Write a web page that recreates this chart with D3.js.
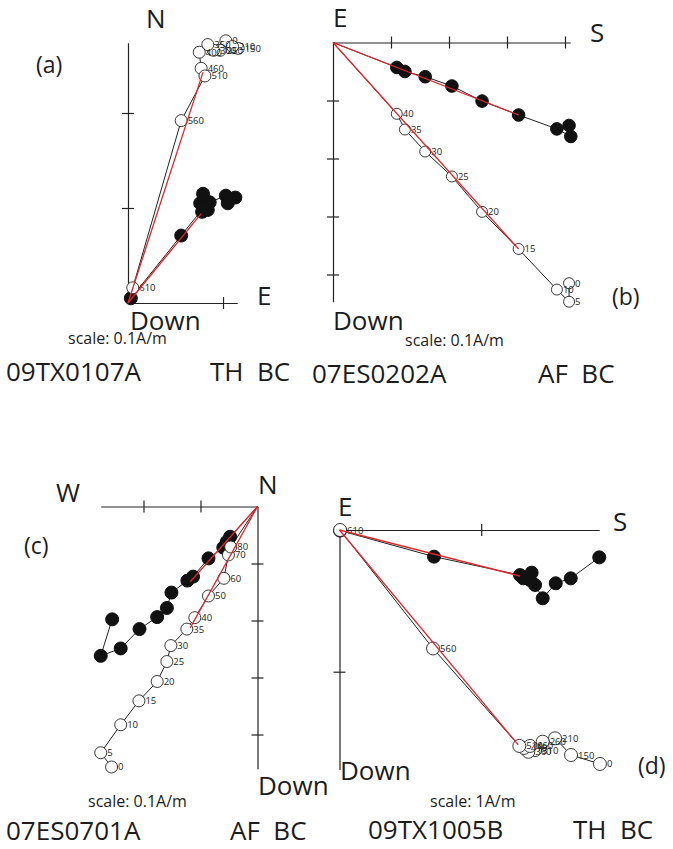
<!DOCTYPE html>
<html>
<head>
<meta charset="utf-8">
<script src="https://cdn.jsdelivr.net/npm/d3@7"></script>
<style>
  body { margin: 0; background: #fff; }
  text { font-family: "Open Sans", sans-serif; fill: #1c1c1c; white-space: pre; }
</style>
</head>
<body>
<svg id="chart" width="673" height="849"></svg>
<script>
// Demagnetisation steps and projections, in A/m
// each point is [horizontal axis component, vertical axis component]

// (a) 09TX0107A, thermal steps
var stepsA = ["0", "150", "210", "250", "300", "350", "400", "460", "510", "560", "610"];
var openA = [[0.103, 0.276], [0.116, 0.268], [0.110, 0.270], [0.097, 0.266], [0.090, 0.266], [0.084, 0.272],
             [0.075, 0.264], [0.077, 0.247], [0.081, 0.239], [0.056, 0.192], [0.005, 0.016]];
var filledA = [[0.113, 0.111], [0.105, 0.105], [0.103, 0.113], [0.086, 0.106], [0.079, 0.115], [0.084, 0.098],
               [0.076, 0.105], [0.078, 0.096], [0.080, 0.101], [0.056, 0.071], [0.003, 0.005]];
var fitOpenA = [[0, 0], [0.079, 0.243]];
var fitFilledA = [[0, 0], [0.077, 0.094]];
var ticksA = { h: [0.1], v: [0.1, 0.2] };

// (b) 07ES0202A, AF steps
var stepsB = ["0", "5", "10", "15", "20", "25", "30", "35", "40"];
var openB = [[0.407, 0.415], [0.407, 0.447], [0.386, 0.426], [0.320, 0.356], [0.257, 0.292],
             [0.205, 0.231], [0.159, 0.188], [0.124, 0.150], [0.110, 0.123]];
var filledB = [[0.407, 0.143], [0.410, 0.162], [0.386, 0.149], [0.320, 0.125], [0.257, 0.101],
               [0.205, 0.075], [0.159, 0.059], [0.124, 0.050], [0.110, 0.043]];
var fitOpenB = [[0, 0], [0.320, 0.356]];
var fitFilledB = [[0, 0], [0.320, 0.125]];
var ticksB = { h: [0.1, 0.2, 0.3, 0.4], v: [0.1, 0.2, 0.3, 0.4] };

// (c) 07ES0701A, AF steps
var stepsC = ["0", "5", "10", "15", "20", "25", "30", "35", "40", "50", "60", "70", "80"];
var openC = [[0.256, 0.457], [0.275, 0.432], [0.240, 0.383], [0.208, 0.341], [0.176, 0.307], [0.159, 0.272],
             [0.152, 0.244], [0.124, 0.215], [0.110, 0.195], [0.086, 0.157], [0.059, 0.126], [0.051, 0.085],
             [0.047, 0.071]];
var filledC = [[0.255, 0.198], [0.275, 0.262], [0.240, 0.249], [0.207, 0.215], [0.176, 0.194], [0.159, 0.178],
               [0.151, 0.151], [0.123, 0.130], [0.113, 0.123], [0.086, 0.091], [0.060, 0.072], [0.054, 0.062],
               [0.048, 0.053]];
var fitOpenC = [[0, 0], [0.118, 0.213]];
var fitFilledC = [[0, 0], [0.118, 0.132]];
var ticksC = { h: [0.1, 0.2], v: [0.1, 0.2, 0.3, 0.4] };

// (d) 09TX1005B, thermal steps
var stepsD = ["0", "150", "210", "260", "310", "360", "410", "460", "510", "560", "610"];
var openD = [[1.838, 1.651], [1.634, 1.588], [1.521, 1.470], [1.434, 1.494], [1.380, 1.553], [1.332, 1.565],
             [1.302, 1.538], [1.344, 1.524], [1.269, 1.524], [0.660, 0.836], [0.004, 0.000]];
var filledD = [[1.833, 0.193], [1.632, 0.341], [1.526, 0.376], [1.434, 0.482], [1.380, 0.388], [1.344, 0.353],
               [1.297, 0.341], [1.356, 0.301], [1.274, 0.318], [0.667, 0.188], [0.004, 0.004]];
var fitOpenD = [[0, 0], [1.262, 1.517]];
var fitFilledD = [[0, 0], [1.274, 0.325]];
var ticksD = { h: [1], v: [1] };

// Panel layout: origin in px, px per A/m, axis directions and lengths
var panels = [
  { steps: stepsA, open: openA, filled: filledA, fitOpen: fitOpenA, fitFilled: fitFilledA, ticks: ticksA,
    ox: 128, oy: 303, unit: 950, sx: 1, sy: -1, hExt: 0.115, vExt: 0.274, rOpen: 6, rFilled: 6.5, toOrigin: false,
    texts: [["N", 146, 28, 26], ["(a)", 36, 73, 23], ["E", 257, 305, 26], ["Down", 130, 330, 26],
            ["scale: 0.1A/m", 68, 344, 16], ["09TX0107A", 6, 381, 26], ["TH  BC", 210, 381, 26]] },
  { steps: stepsB, open: openB, filled: filledB, fitOpen: fitOpenB, fitFilled: fitFilledB, ticks: ticksB,
    ox: 333, oy: 42.5, unit: 580, sx: 1, sy: 1, hExt: 0.409, vExt: 0.447, rOpen: 5.5, rFilled: 6.3, toOrigin: true,
    texts: [["E", 333, 27, 26], ["S", 590, 42, 26], ["Down", 333, 330, 26], ["(b)", 612, 305, 23],
            ["scale: 0.1A/m", 405, 346, 16], ["07ES0202A", 312, 383, 26], ["AF  BC", 538, 383, 26]] },
  { steps: stepsC, open: openC, filled: filledC, fitOpen: fitOpenC, fitFilled: fitFilledC, ticks: ticksC,
    ox: 257.5, oy: 506.5, unit: 570, sx: -1, sy: 1, hExt: 0.275, vExt: 0.46, rOpen: 6, rFilled: 6.5, toOrigin: true,
    texts: [["W", 56, 502, 26], ["N", 258, 494, 26], ["(c)", 24, 554, 23], ["Down", 258, 795, 26],
            ["scale: 0.1A/m", 88, 807, 16], ["07ES0701A", 6, 840, 26], ["AF  BC", 230, 840, 26]] },
  { steps: stepsD, open: openD, filled: filledD, fitOpen: fitOpenD, fitFilled: fitFilledD, ticks: ticksD,
    ox: 339.5, oy: 530, unit: 141.7, sx: 1, sy: 1, hExt: 1.833, vExt: 1.69, rOpen: 6.5, rFilled: 6.5, toOrigin: false,
    texts: [["E", 338, 516, 26], ["S", 613, 531, 26], ["Down", 340, 780, 26], ["(d)", 638, 774, 23],
            ["scale: 1A/m", 430, 807, 16], ["09TX1005B", 368, 839, 26], ["TH  BC", 573, 839, 26]] }
];

var svg = d3.select("#chart");

panels.forEach(function (p) {
  var g = svg.append("g");

  var x = d3.scaleLinear().domain([0, p.hExt]).range([p.ox, p.ox + p.sx * p.unit * p.hExt]);
  var y = d3.scaleLinear().domain([0, p.vExt]).range([p.oy, p.oy + p.sy * p.unit * p.vExt]);

  // axes with crossing tick marks
  var xAxis = g.append("g")
    .attr("transform", "translate(0," + p.oy + ")")
    .call(d3.axisBottom(x).tickValues(p.ticks.h).tickSizeOuter(0).tickFormat(""));
  xAxis.selectAll(".tick line").attr("y1", -6).attr("y2", 6);

  var yAxis = g.append("g")
    .attr("transform", "translate(" + p.ox + ",0)")
    .call(d3.axisLeft(y).tickValues(p.ticks.v).tickSizeOuter(0).tickFormat(""));
  yAxis.selectAll(".tick line").attr("x1", -6).attr("x2", 6);

  g.selectAll(".domain, .tick line").attr("stroke", "#222").attr("stroke-width", 1.2);

  var line = d3.line()
    .x(function (d) { return x(d[0]); })
    .y(function (d) { return y(d[1]); });

  var openPath = p.toOrigin ? p.open.concat([[0, 0]]) : p.open;
  var filledPath = p.toOrigin ? p.filled.concat([[0, 0]]) : p.filled;

  g.append("path").attr("d", line(openPath))
    .attr("fill", "none").attr("stroke", "#222").attr("stroke-width", 1);
  g.append("path").attr("d", line(filledPath))
    .attr("fill", "none").attr("stroke", "#222").attr("stroke-width", 1);

  g.selectAll(".filled")
    .data(p.filled)
    .enter()
    .append("circle")
      .attr("cx", function (d) { return x(d[0]); })
      .attr("cy", function (d) { return y(d[1]); })
      .attr("r", p.rFilled)
      .attr("fill", "#111")
      .attr("stroke", "#111");

  g.selectAll(".open")
    .data(p.open)
    .enter()
    .append("circle")
      .attr("cx", function (d) { return x(d[0]); })
      .attr("cy", function (d) { return y(d[1]); })
      .attr("r", p.rOpen)
      .attr("fill", "#fff")
      .attr("stroke", "#222")
      .attr("stroke-width", 0.9);

  g.selectAll(".step")
    .data(p.open)
    .enter()
    .append("text")
      .attr("x", function (d) { return x(d[0]) + p.rOpen + 0.5; })
      .attr("y", function (d) { return y(d[1]) + 3.5; })
      .attr("font-size", 9.5)
      .text(function (d, i) { return p.steps[i]; });

  // principal component fits
  [p.fitOpen, p.fitFilled].forEach(function (f) {
    g.append("path").attr("d", line(f))
      .attr("fill", "none").attr("stroke", "#e0262b").attr("stroke-width", 1.3);
  });

  p.texts.forEach(function (t) {
    g.append("text")
      .attr("x", t[1])
      .attr("y", t[2])
      .attr("font-size", t[3])
      .text(t[0]);
  });
});
</script>
</body>
</html>
